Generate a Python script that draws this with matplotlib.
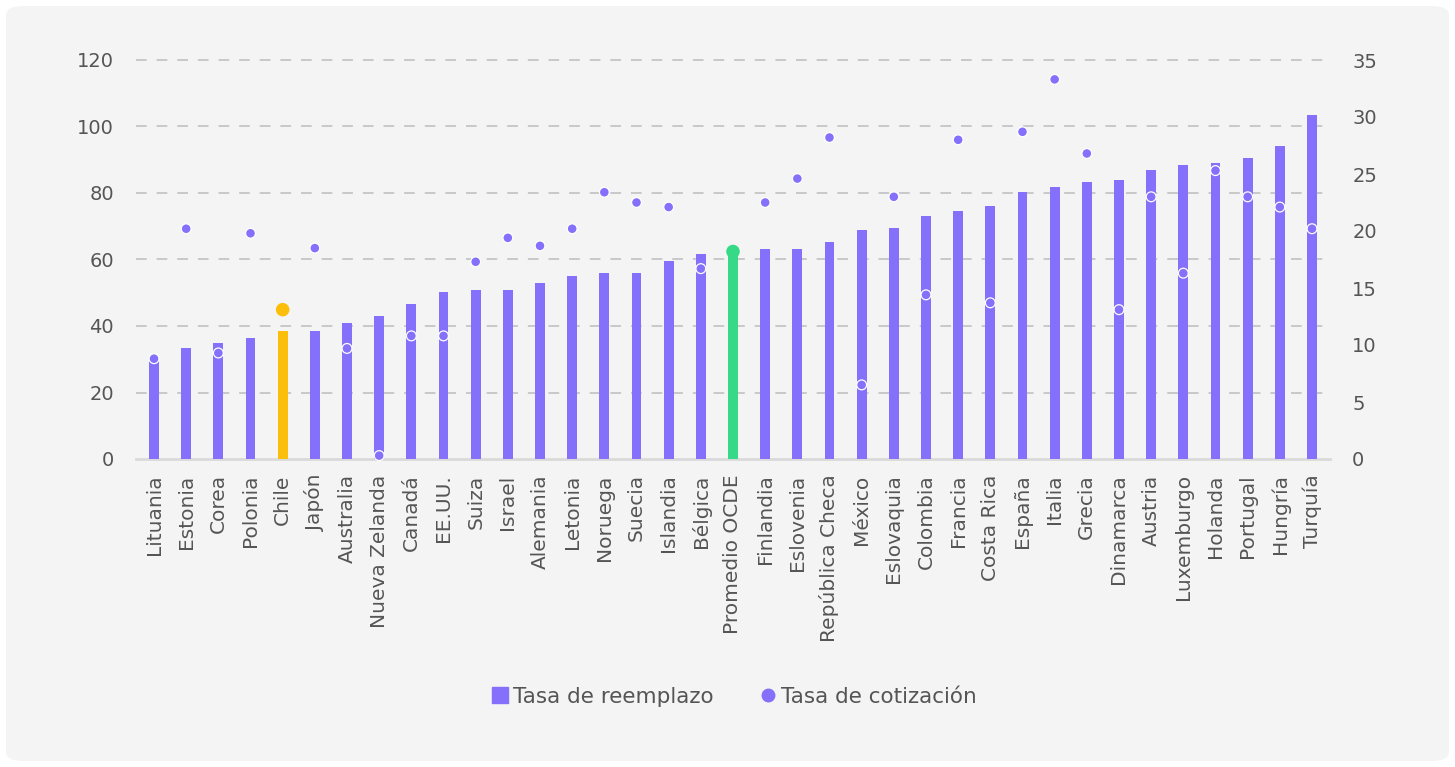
import numpy as np
import matplotlib.pyplot as plt
from matplotlib.patches import FancyBboxPatch
from matplotlib.lines import Line2D

plt.rcParams['font.family'] = ['DejaVu Sans']

paises = ['Lituania', 'Estonia', 'Corea', 'Polonia', 'Chile', 'Japón', 'Australia',
          'Nueva Zelanda', 'Canadá', 'EE.UU.', 'Suiza', 'Israel', 'Alemania', 'Letonia',
          'Noruega', 'Suecia', 'Islandia', 'Bélgica', 'Promedio OCDE', 'Finlandia',
          'Eslovenia', 'República Checa', 'México', 'Eslovaquia', 'Colombia', 'Francia',
          'Costa Rica', 'España', 'Italia', 'Grecia', 'Dinamarca', 'Austria',
          'Luxemburgo', 'Holanda', 'Portugal', 'Hungría', 'Turquía']

tasa_reemplazo = [30.6, 33.5, 35.0, 36.4, 38.5, 38.6, 40.8, 42.9, 46.5, 50.1, 50.8, 50.8,
                  52.9, 55.1, 55.8, 55.8, 59.4, 61.7, 62.4, 63.1, 63.1, 65.3, 68.9, 69.6,
                  73.2, 74.6, 76.1, 80.4, 81.8, 83.3, 84.0, 86.9, 88.3, 89.0, 90.5, 94.1,
                  103.5]

tasa_cotizacion = [8.8, 20.2, 9.3, 19.8, 13.1, 18.5, 9.7, 0.3, 10.8, 10.8, 17.3, 19.4,
                   18.7, 20.2, 23.4, 22.5, 22.1, 16.7, 18.2, 22.5, 24.6, 28.2, 6.5, 23.0,
                   14.4, 28.0, 13.7, 28.7, 33.3, 26.8, 13.1, 23.0, 16.3, 25.3, 23.0, 22.1,
                   20.2]

morado = '#8470fa'
amarillo = '#fbbf0b'
verde = '#36d985'
gris_txt = '#555555'

colores = [morado] * len(paises)
colores[paises.index('Chile')] = amarillo
colores[paises.index('Promedio OCDE')] = verde

fig = plt.figure(figsize=(14.55, 7.67), dpi=100, facecolor='white')
# fondo gris con esquinas redondeadas
fig.patches.append(FancyBboxPatch((6 / 1455, 6 / 767), 1443 / 1455, 755 / 767,
                                  boxstyle='round,pad=0,rounding_size=0.012',
                                  transform=fig.transFigure, facecolor='#f4f4f4',
                                  edgecolor='none', zorder=-1))

ax = fig.add_axes([136 / 1455, 1 - 459 / 767, 1194 / 1455, 399 / 767])
ax.set_facecolor('none')
x = np.arange(len(paises))
ax.bar(x, tasa_reemplazo, width=0.31, color=colores, zorder=2)
ax.set_xlim(-0.56, len(paises) - 0.44)
ax.set_ylim(0, 120)
ax.set_yticks(range(0, 121, 20))
ax.set_axisbelow(True)
ax.grid(axis='y', color='#bdbdbd', linestyle=(0, (7, 6.5)), linewidth=1.1)
for gl in ax.get_ygridlines()[1:]:
    gl.set_clip_on(False)
ax.get_ygridlines()[0].set_visible(False)
ax.axhline(0, color='#dadada', linewidth=2, zorder=1, clip_on=False)
for s in ax.spines.values():
    s.set_visible(False)
ax.set_xticks(x)
ax.set_xticklabels(paises, rotation=90, fontsize=14.5, color=gris_txt)
ax.tick_params(axis='x', length=0, pad=11)
ax.tick_params(axis='y', length=0, pad=16, labelsize=14, labelcolor=gris_txt)

ax2 = ax.twinx()
ax2.set_ylim(0, 35)
ax2.set_yticks(range(0, 36, 5))
for s in ax2.spines.values():
    s.set_visible(False)
ax2.tick_params(axis='y', length=0, pad=16, labelsize=14, labelcolor=gris_txt)

tam = [50] * len(paises)
bordes = ['white'] * len(paises)
for nombre in ('Chile', 'Promedio OCDE'):
    i = paises.index(nombre)
    tam[i] = 95
    bordes[i] = 'none'
ax2.scatter(x, tasa_cotizacion, s=tam, c=colores, edgecolors=bordes, linewidths=0.9,
            zorder=3, clip_on=False)

handles = [Line2D([], [], marker='s', color=morado, linestyle='none', markersize=11.5),
           Line2D([], [], marker='o', color=morado, linestyle='none', markersize=9)]
fig.legend(handles, ['Tasa de reemplazo', 'Tasa de cotización'], loc='center',
           bbox_to_anchor=(733 / 1455, 1 - 697 / 767), ncol=2, frameon=False,
           fontsize=15.5, labelcolor=gris_txt, handletextpad=0.1, columnspacing=2.0,
           handlelength=1.0)

fig.savefig('out.png', dpi=100, facecolor='white')
